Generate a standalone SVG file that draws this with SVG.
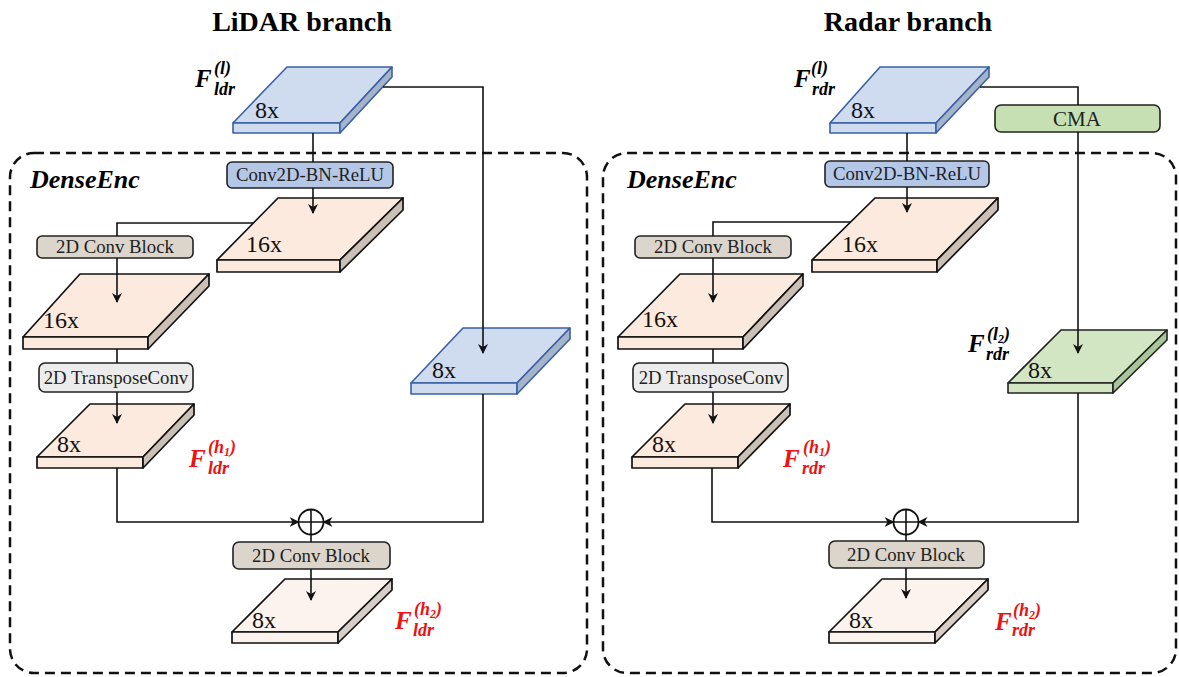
<svg xmlns="http://www.w3.org/2000/svg" width="1179" height="677" viewBox="0 0 1179 677">
  <defs>
    <marker id="arrow" viewBox="0 0 10 10" refX="9" refY="5" markerWidth="10" markerHeight="10" markerUnits="userSpaceOnUse" orient="auto">
      <path d="M0,0 L10,5 L0,10 L3,5 z" fill="#111"/>
    </marker>
    <style>
      text { font-family: "Liberation Serif", "Times New Roman", Tinos, "DejaVu Serif", serif; }
      .title { font-weight: bold; font-size: 28px; fill: #000; }
      .enc { font-weight: bold; font-style: italic; font-size: 26px; fill: #000; }
      .mult { font-size: 24px; fill: #111; }
      .boxtxt { font-size: 18.8px; fill: #222; text-anchor: middle; }
      .math { font-weight: bold; font-style: italic; fill: #000; }
      .math.red { fill: #ee1111; }
      .F { font-size: 25px; }
      .s { font-size: 18px; }
      .ss { font-size: 12px; }
      .dash { fill: none; stroke: #111; stroke-width: 2.5; stroke-dasharray: 10 6; }
      .wire { fill: none; stroke: #111; stroke-width: 1.6; }
      .arr { marker-end: url(#arrow); }
      .blue .face { fill: #cfdbef; stroke: #3a60a4; stroke-width: 1.6; stroke-linejoin: round; }
      .blue .side { fill: #a5b3cb; stroke: #3a60a4; stroke-width: 1.6; stroke-linejoin: round; }
      .peach .face { fill: #fbeadd; stroke: #111; stroke-width: 1.7; stroke-linejoin: round; }
      .peach .side { fill: #cbc0b6; stroke: #111; stroke-width: 1.7; stroke-linejoin: round; }
      .pale .face { fill: #fcf3ee; stroke: #111; stroke-width: 1.7; stroke-linejoin: round; }
      .pale .side { fill: #d8cec7; stroke: #111; stroke-width: 1.7; stroke-linejoin: round; }
      .green .face { fill: #d2e6c4; stroke: #222; stroke-width: 1.6; stroke-linejoin: round; }
      .green .side { fill: #a9c69a; stroke: #222; stroke-width: 1.6; stroke-linejoin: round; }
      .box { stroke: #222; stroke-width: 1.6; }
      .cbr { fill: #b4c7e7; }
      .cblk { fill: #dcd5cc; }
      .tconv { fill: #ececec; }
      .cma { fill: #c6e0b4; }
      .sum { fill: #fff; stroke: #111; stroke-width: 1.8; }
    </style>
  </defs>

  <rect width="1179" height="677" fill="#fff"/>

  <!-- titles -->
  <text class="title" x="302" y="31" text-anchor="middle">LiDAR branch</text>
  <text class="title" x="908" y="31" text-anchor="middle">Radar branch</text>

  <!-- dashed DenseEnc frames -->
  <rect class="dash" x="10" y="153" width="577" height="520" rx="24"/>
  <rect class="dash" x="603" y="153" width="573" height="520" rx="24"/>
  <text class="enc" x="30" y="188">DenseEnc</text>
  <text class="enc" x="627" y="188">DenseEnc</text>

  <!-- ===== LiDAR branch nodes ===== -->
  <g id="lidar-in" class="blue">
    <polygon class="face" points="233,123 287,67 392,67 340,123"/>
    <rect class="face" x="233" y="123" width="107" height="10"/>
    <polygon class="side" points="340,123 392,67 392,77 340,133"/>
    <text class="mult" x="255" y="118">8x</text>
  </g>
  <g id="lidar-cbr">
    <rect class="box cbr" x="227" y="162" width="166" height="26" rx="5"/>
    <text class="boxtxt" x="310" y="181">Conv2D-BN-ReLU</text>
  </g>
  <g id="lidar-16a" class="peach">
    <polygon class="face" points="217,260 278,198 403,198 340,260"/>
    <rect class="face" x="217" y="260" width="123" height="12"/>
    <polygon class="side" points="340,260 403,198 403,210 340,272"/>
    <text class="mult" x="246" y="252">16x</text>
  </g>
  <g id="lidar-conv1">
    <rect class="box cblk" x="37" y="236" width="156" height="22" rx="5"/>
    <text class="boxtxt" x="115" y="253">2D Conv Block</text>
  </g>
  <g id="lidar-16b" class="peach">
    <polygon class="face" points="23,337 80,274 209,274 148,337"/>
    <rect class="face" x="23" y="337" width="125" height="12"/>
    <polygon class="side" points="148,337 209,274 209,286 148,349"/>
    <text class="mult" x="43" y="328">16x</text>
  </g>
  <g id="lidar-tconv">
    <rect class="box tconv" x="39" y="363" width="154" height="29" rx="6"/>
    <text class="boxtxt" x="116" y="384">2D TransposeConv</text>
  </g>
  <g id="lidar-h1" class="peach">
    <polygon class="face" points="37,457 90,404 194,404 143,457"/>
    <rect class="face" x="37" y="457" width="106" height="11"/>
    <polygon class="side" points="143,457 194,404 194,415 143,468"/>
    <text class="mult" x="57" y="452">8x</text>
  </g>
  <g id="lidar-skip" class="blue">
    <polygon class="face" points="411,383 463,328 570,328 517,383"/>
    <rect class="face" x="411" y="383" width="106" height="11"/>
    <polygon class="side" points="517,383 570,328 570,339 517,394"/>
    <text class="mult" x="432" y="378">8x</text>
  </g>
  <g id="lidar-sum">
    <circle class="sum" cx="311" cy="522" r="12.5"/>
    <path class="wire" d="M298.5,522 H323.5 M311,509.5 V534.5"/>
  </g>
  <g id="lidar-conv2">
    <rect class="box cblk" x="233" y="542" width="157" height="27" rx="6"/>
    <text class="boxtxt" x="311" y="562">2D Conv Block</text>
  </g>
  <g id="lidar-h2" class="pale">
    <polygon class="face" points="232,632 285,579 392,579 338,632"/>
    <rect class="face" x="232" y="632" width="106" height="11"/>
    <polygon class="side" points="338,632 392,579 392,590 338,643"/>
    <text class="mult" x="252" y="628">8x</text>
  </g>

  <!-- ===== Radar branch nodes ===== -->
  <g id="radar-in" class="blue">
    <polygon class="face" points="830,123 880,67 989,67 936,123"/>
    <rect class="face" x="830" y="123" width="106" height="10"/>
    <polygon class="side" points="936,123 989,67 989,77 936,133"/>
    <text class="mult" x="851" y="118">8x</text>
  </g>
  <g id="radar-cma">
    <rect class="box cma" x="995" y="105" width="165" height="27" rx="6"/>
    <text class="boxtxt" x="1077" y="126" style="font-size:21px">CMA</text>
  </g>
  <g id="radar-cbr">
    <rect class="box cbr" x="825" y="161" width="164" height="26" rx="5"/>
    <text class="boxtxt" x="907" y="180">Conv2D-BN-ReLU</text>
  </g>
  <g id="radar-16a" class="peach">
    <polygon class="face" points="812,260 875,198 998,198 937,260"/>
    <rect class="face" x="812" y="260" width="125" height="12"/>
    <polygon class="side" points="937,260 998,198 998,210 937,272"/>
    <text class="mult" x="842" y="252">16x</text>
  </g>
  <g id="radar-conv1">
    <rect class="box cblk" x="635" y="236" width="156" height="22" rx="5"/>
    <text class="boxtxt" x="713" y="253">2D Conv Block</text>
  </g>
  <g id="radar-16b" class="peach">
    <polygon class="face" points="618,337 680,274 803,274 743,337"/>
    <rect class="face" x="618" y="337" width="125" height="12"/>
    <polygon class="side" points="743,337 803,274 803,286 743,349"/>
    <text class="mult" x="642" y="327">16x</text>
  </g>
  <g id="radar-tconv">
    <rect class="box tconv" x="633" y="363" width="155" height="29" rx="6"/>
    <text class="boxtxt" x="711" y="384">2D TransposeConv</text>
  </g>
  <g id="radar-h1" class="peach">
    <polygon class="face" points="632,457 685,404 790,404 738,457"/>
    <rect class="face" x="632" y="457" width="106" height="11"/>
    <polygon class="side" points="738,457 790,404 790,415 738,468"/>
    <text class="mult" x="652" y="452">8x</text>
  </g>
  <g id="radar-l2" class="green">
    <polygon class="face" points="1008,383 1061,330 1167,330 1113,383"/>
    <rect class="face" x="1008" y="383" width="105" height="10"/>
    <polygon class="side" points="1113,383 1167,330 1167,340 1113,393"/>
    <text class="mult" x="1028" y="378">8x</text>
  </g>
  <g id="radar-sum">
    <circle class="sum" cx="906" cy="522" r="12.5"/>
    <path class="wire" d="M893.5,522 H918.5 M906,509.5 V534.5"/>
  </g>
  <g id="radar-conv2">
    <rect class="box cblk" x="829" y="541" width="155" height="27" rx="6"/>
    <text class="boxtxt" x="906" y="561">2D Conv Block</text>
  </g>
  <g id="radar-h2" class="pale">
    <polygon class="face" points="829,632 882,579 988,579 935,632"/>
    <rect class="face" x="829" y="632" width="106" height="11"/>
    <polygon class="side" points="935,632 988,579 988,590 935,643"/>
    <text class="mult" x="849" y="628">8x</text>
  </g>

  <!-- ===== connectors ===== -->
  <g id="connectors">
    <!-- LiDAR -->
    <path class="wire" d="M313,133 V162"/>
    <path class="wire arr" d="M313,188 V213"/>
    <path class="wire" d="M253,223 H117 V236"/>
    <path class="wire arr" d="M117,258 V302"/>
    <path class="wire" d="M117,349 V363"/>
    <path class="wire arr" d="M117,392 V423"/>
    <path class="wire arr" d="M117,468 V522 H298.5"/>
    <path class="wire arr" d="M383,87 H483 V353"/>
    <path class="wire arr" d="M483,394 V522 H323.5"/>
    <path class="wire" d="M311,534.5 V542"/>
    <path class="wire arr" d="M311,569 V600"/>
    <!-- Radar -->
    <path class="wire" d="M907,133 V161"/>
    <path class="wire arr" d="M907,187 V212"/>
    <path class="wire" d="M851,222 H713 V236"/>
    <path class="wire arr" d="M713,258 V302"/>
    <path class="wire" d="M713,349 V363"/>
    <path class="wire arr" d="M713,392 V423"/>
    <path class="wire arr" d="M712,468 V522 H893.5"/>
    <path class="wire" d="M980,87 H1078 V105"/>
    <path class="wire arr" d="M1078,132 V353"/>
    <path class="wire arr" d="M1078,393 V522 H918.5"/>
    <path class="wire" d="M906,534.5 V541"/>
    <path class="wire arr" d="M906,568 V598"/>
  </g>

  <!-- ===== feature labels ===== -->
  <g class="math">
    <text class="F" x="195" y="87">F</text>
    <text class="s" x="214" y="74">(l)</text>
    <text class="s" x="214" y="95">ldr</text>
  </g>
  <g class="math red">
    <text class="F" x="189" y="467">F</text>
    <text class="s" x="208" y="453">(h<tspan class="ss" dy="3">1</tspan><tspan dy="-3">)</tspan></text>
    <text class="s" x="208" y="474">ldr</text>
  </g>
  <g class="math red">
    <text class="F" x="395" y="629">F</text>
    <text class="s" x="414" y="615">(h<tspan class="ss" dy="3">2</tspan><tspan dy="-3">)</tspan></text>
    <text class="s" x="413" y="636">ldr</text>
  </g>
  <g class="math">
    <text class="F" x="794" y="87">F</text>
    <text class="s" x="811" y="74">(l)</text>
    <text class="s" x="812" y="95">rdr</text>
  </g>
  <g class="math">
    <text class="F" x="968" y="352">F</text>
    <text class="s" x="987" y="340">(l<tspan class="ss" dy="3">2</tspan><tspan dy="-3">)</tspan></text>
    <text class="s" x="986" y="360">rdr</text>
  </g>
  <g class="math red">
    <text class="F" x="783" y="467">F</text>
    <text class="s" x="803" y="453">(h<tspan class="ss" dy="3">1</tspan><tspan dy="-3">)</tspan></text>
    <text class="s" x="802" y="474">rdr</text>
  </g>
  <g class="math red">
    <text class="F" x="995" y="630">F</text>
    <text class="s" x="1013" y="616">(h<tspan class="ss" dy="3">2</tspan><tspan dy="-3">)</tspan></text>
    <text class="s" x="1012" y="636">rdr</text>
  </g>
</svg>
